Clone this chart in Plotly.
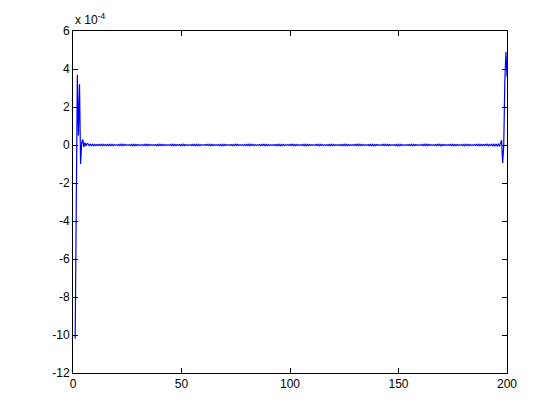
import plotly.graph_objects as go

# values in units of 1e-4
left_edge = [-10.2, -1.9, 3.7, 0.5, 3.2, -1.0, 0.1, 0.3, -0.1, 0.12, -0.06, 0.08]
middle = [
    0.05, -0.04, 0.04, -0.03, 0.04, -0.04, 0.03, -0.03, 0.02, -0.02, 0.03, -0.03, 0.04, -0.04, 0.03, -0.02, 0.02, -0.03, 0.03, -0.04,
    0.04, -0.03, 0.03, -0.03, 0.02, -0.01, 0.01, -0.02, 0.03, -0.03, 0.04, -0.04, 0.04, -0.03, 0.03, -0.02, 0.01, -0.01, 0.02, -0.03,
    0.03, -0.04, 0.04, -0.04, 0.03, -0.03, 0.02, -0.02, 0.01, -0.01, 0.02, -0.02, 0.03, -0.03, 0.04, -0.03, 0.03, -0.02, 0.02, -0.01,
    0.01, -0.02, 0.02, -0.03, 0.03, -0.04, 0.04, -0.03, 0.03, -0.03, 0.02, -0.02, 0.01, -0.01, 0.01, -0.02, 0.03, -0.03, 0.04, -0.04,
    0.03, -0.03, 0.02, -0.02, 0.02, -0.03, 0.03, -0.04, 0.04, -0.03, 0.02, -0.02, 0.01, -0.01, 0.02, -0.02, 0.03, -0.03, 0.03, -0.04,
    0.04, -0.04, 0.03, -0.03, 0.02, -0.01, 0.01, -0.01, 0.02, -0.02, 0.03, -0.03, 0.04, -0.04, 0.03, -0.03, 0.02, -0.02, 0.01, -0.01,
    0.02, -0.03, 0.03, -0.04, 0.04, -0.04, 0.03, -0.02, 0.02, -0.01, 0.01, -0.02, 0.02, -0.03, 0.03, -0.03, 0.04, -0.03, 0.03, -0.02,
    0.02, -0.02, 0.01, -0.01, 0.02, -0.02, 0.03, -0.03, 0.04, -0.04, 0.04, -0.03, 0.03, -0.02, 0.02, -0.02, 0.01, -0.01, 0.02, -0.03,
    0.03, -0.03, 0.04, -0.04, 0.03, -0.03, 0.02, -0.02, 0.01, -0.01, 0.01, -0.02, 0.02, -0.03, 0.03, -0.04, 0.04, -0.04, 0.03, -0.03,
    0.02, -0.02, 0.01, -0.01, 0.02, -0.02, 0.03, -0.03, 0.04, -0.03, 0.03, -0.03, 0.02, -0.02, 0.01, -0.01, 0.02, -0.02, 0.03, -0.04,
    0.04, -0.04, 0.03, -0.03, 0.02, -0.02, 0.01, -0.01, 0.01, -0.02, 0.03, -0.03, 0.04, -0.04, 0.03, -0.02, 0.02, -0.02, 0.01, -0.01,
    0.02, -0.03, 0.03, -0.04, 0.04, -0.03, 0.03, -0.03, 0.02, -0.01, 0.01, -0.02, 0.02, -0.03, 0.03, -0.03, 0.04, -0.04, 0.03, -0.03,
    0.02, -0.02, 0.01, -0.01, 0.02, -0.02, 0.03, -0.03, 0.04, -0.04, 0.04, -0.03, 0.03, -0.02, 0.02, -0.01, 0.01, -0.02, 0.02, -0.03,
    0.03, -0.04, 0.04, -0.04, 0.03, -0.03, 0.02, -0.02, 0.01, -0.01, 0.02, -0.02, 0.03, -0.03, 0.04, -0.03, 0.03, -0.03, 0.02, -0.02,
    0.01, -0.01, 0.02, -0.03, 0.03, -0.04, 0.04, -0.04, 0.03, -0.02, 0.02, -0.02, 0.01, -0.01, 0.02, -0.02, 0.03, -0.03, 0.04, -0.04,
    0.03, -0.03, 0.02, -0.02, 0.01, -0.01, 0.01, -0.02, 0.03, -0.03, 0.04, -0.04, 0.04, -0.03, 0.03, -0.02, 0.02, -0.01, 0.01, -0.02,
    0.02, -0.03, 0.03, -0.03, 0.04, -0.04, 0.03, -0.03, 0.02, -0.02, 0.01, -0.01, 0.02, -0.02, 0.03, -0.03, 0.04, -0.04, 0.03, -0.03,
    0.02, -0.02, 0.01, -0.01, 0.02, -0.03, 0.03, -0.04, 0.04, -0.03, 0.03, -0.03, 0.02, -0.02, 0.01, -0.01, 0.02, -0.02, 0.03, -0.03,
    0.04, -0.04, 0.03, -0.03, 0.02, -0.02, 0.03, -0.03, 0.04, -0.04, 0.03, -0.03, 0.04, -0.05, 0.04, -0.05, 0.05, -0.06, 0.06, -0.07,
]
right_edge = [0.08, 0.25, -0.95, 0.0, 3.4, 4.9, 3.6]

x_start = 1.0
x_step = 0.5
x_ticks = [0, 50, 100, 150, 200]
y_ticks = [-12, -10, -8, -6, -4, -2, 0, 2, 4, 6]

y_vals = left_edge + middle + right_edge
x_vals = [x_start + x_step * i for i in range(len(y_vals))]

fig = go.Figure()
fig.add_trace(go.Scatter(x=x_vals, y=y_vals, mode="lines",
                         line=dict(color="#0000FF", width=1.2), showlegend=False))

axis_common = dict(showgrid=False, zeroline=False, showline=True, linecolor="black",
                   linewidth=1, mirror="ticks", ticks="inside", ticklen=5,
                   tickcolor="black", tickfont=dict(family="Liberation Sans, Arial", size=12, color="black"))

fig.update_xaxes(range=[0, 200], tickvals=x_ticks, ticktext=[str(t) for t in x_ticks], **axis_common)
fig.update_yaxes(range=[-12, 6], tickvals=y_ticks, ticktext=[str(t) for t in y_ticks], **axis_common)

fig.add_annotation(xref="paper", yref="paper", x=0, y=1.0, xanchor="left", yanchor="bottom",
                   yshift=2, showarrow=False,
                   text="x 10<sup>-4</sup>",
                   font=dict(family="Liberation Sans, Arial", size=12, color="black"))

fig.update_layout(width=552, height=412, margin=dict(l=65, r=53, t=23, b=47),
                  paper_bgcolor="white", plot_bgcolor="white")

fig.write_html("out.html")
